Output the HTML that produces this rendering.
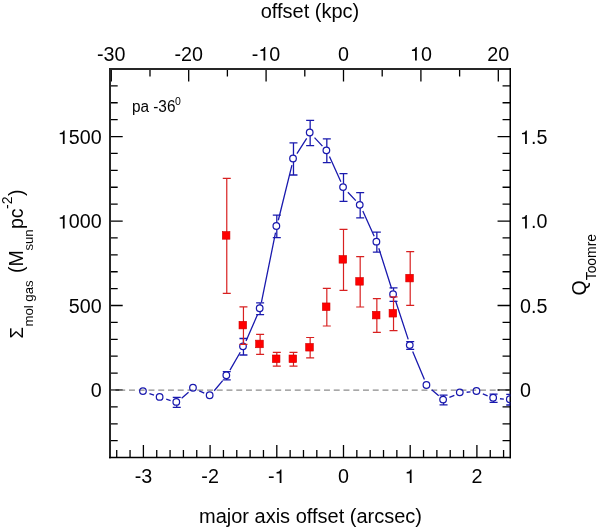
<!DOCTYPE html><html><head><meta charset="utf-8"><style>html,body{margin:0;padding:0;background:#fff}svg{display:block}</style></head><body>
<svg width="600" height="527" viewBox="0 0 600 527" font-family="Liberation Sans, sans-serif">
<rect width="600" height="527" fill="#fff"/>
<defs><path id="one" d="M713 0V-1409H600C575 -1260 470 -1150 205 -1135V-1000H528V0Z"/></defs>
<defs><clipPath id="c"><rect x="110.00" y="69.00" width="400.25" height="388.40"/></clipPath></defs>
<path d="M116.72 457.40V450.00 M130.06 457.40V450.00 M143.40 457.40V444.90 M156.74 457.40V450.00 M170.08 457.40V450.00 M183.42 457.40V450.00 M196.76 457.40V450.00 M210.10 457.40V444.90 M223.44 457.40V450.00 M236.78 457.40V450.00 M250.12 457.40V450.00 M263.46 457.40V450.00 M276.80 457.40V444.90 M290.14 457.40V450.00 M303.48 457.40V450.00 M316.82 457.40V450.00 M330.16 457.40V450.00 M343.50 457.40V444.90 M356.84 457.40V450.00 M370.18 457.40V450.00 M383.52 457.40V450.00 M396.86 457.40V450.00 M410.20 457.40V444.90 M423.54 457.40V450.00 M436.88 457.40V450.00 M450.22 457.40V450.00 M463.56 457.40V450.00 M476.90 457.40V444.90 M490.24 457.40V450.00 M503.58 457.40V450.00 M111.28 69.00V81.60 M149.99 69.00V76.60 M188.69 69.00V81.60 M227.39 69.00V76.60 M266.09 69.00V81.60 M304.80 69.00V76.60 M343.50 69.00V81.60 M382.20 69.00V76.60 M420.91 69.00V81.60 M459.61 69.00V76.60 M498.31 69.00V81.60 M110.00 440.69H117.70 M510.25 440.69H502.55 M110.00 423.79H117.70 M510.25 423.79H502.55 M110.00 406.90H117.70 M510.25 406.90H502.55 M110.00 390.00H122.70 M510.25 390.00H497.55 M110.00 373.10H117.70 M510.25 373.10H502.55 M110.00 356.21H117.70 M510.25 356.21H502.55 M110.00 339.31H117.70 M510.25 339.31H502.55 M110.00 322.42H117.70 M510.25 322.42H502.55 M110.00 305.52H122.70 M510.25 305.52H497.55 M110.00 288.62H117.70 M510.25 288.62H502.55 M110.00 271.73H117.70 M510.25 271.73H502.55 M110.00 254.83H117.70 M510.25 254.83H502.55 M110.00 237.94H117.70 M510.25 237.94H502.55 M110.00 221.04H122.70 M510.25 221.04H497.55 M110.00 204.14H117.70 M510.25 204.14H502.55 M110.00 187.25H117.70 M510.25 187.25H502.55 M110.00 170.35H117.70 M510.25 170.35H502.55 M110.00 153.46H117.70 M510.25 153.46H502.55 M110.00 136.56H122.70 M510.25 136.56H497.55 M110.00 119.66H117.70 M510.25 119.66H502.55 M110.00 102.77H117.70 M510.25 102.77H502.55 M110.00 85.87H117.70 M510.25 85.87H502.55" stroke="#000" stroke-width="1.3" fill="none"/>
<line x1="109.50" y1="390.00" x2="510.25" y2="390.00" stroke="#8c8c8c" stroke-width="1.25" stroke-dasharray="5.95 3.8"/>
<path d="M109.00 69.00H511.00" stroke="#262626" stroke-width="2"/>
<path d="M110.00 68.00V458.15" stroke="#262626" stroke-width="2"/>
<path d="M510.25 68.00V458.15" stroke="#000" stroke-width="1.5"/>
<path d="M109.00 457.40H511.00" stroke="#000" stroke-width="1.5"/>
<g clip-path="url(#c)">
<path d="M149.44 393.62L154.04 395.23 M166.21 399.19L170.62 400.51 M181.63 398.21L188.55 392.34 M199.26 390.83L204.26 393.07 M214.20 390.78L222.68 380.62 M229.97 370.15L240.26 352.30 M246.02 340.89L257.56 314.56 M261.40 302.43L275.53 232.72 M278.33 220.24L291.94 165.16 M296.93 153.56L306.69 138.34 M314.53 137.62L322.45 146.08 M329.47 156.58L340.86 181.72 M347.89 192.21L355.79 200.59 M362.81 211.08L374.21 236.27 M378.79 248.20L391.59 288.50 M395.52 300.68L408.21 339.42 M412.67 351.41L424.41 379.54 M431.70 389.66L438.73 395.79 M449.42 397.45L454.36 395.30 M466.61 392.25L470.52 391.95 M482.83 393.85L487.64 395.80 M499.95 398.75L503.87 399.10" stroke="#1a1aae" stroke-width="1.3" fill="none"/>
<path d="M176.75 397.30V398.60 M176.75 405.20V407.40 M172.75 397.30H180.75 M172.75 407.40H180.75 M226.77 371.60V371.95 M226.77 378.55V379.80 M222.77 371.60H230.77 M222.77 379.80H230.77 M243.45 338.50V343.00 M243.45 349.60V355.00 M239.45 338.50H247.45 M239.45 355.00H247.45 M260.12 302.80V304.95 M260.12 311.55V314.60 M256.12 302.80H264.12 M256.12 314.60H264.12 M276.80 215.20V222.70 M276.80 229.30V237.70 M272.80 215.20H280.80 M272.80 237.70H280.80 M293.48 142.90V155.20 M293.48 161.80V175.00 M289.48 142.90H297.48 M289.48 175.00H297.48 M310.15 120.30V129.20 M310.15 135.80V145.60 M306.15 120.30H314.15 M306.15 145.60H314.15 M326.82 138.80V147.00 M326.82 153.60V162.70 M322.82 138.80H330.82 M322.82 162.70H330.82 M343.50 173.70V183.80 M343.50 190.40V201.40 M339.50 173.70H347.50 M339.50 201.40H347.50 M360.18 192.60V201.50 M360.18 208.10V217.90 M356.18 192.60H364.18 M356.18 217.90H364.18 M376.85 232.10V238.35 M376.85 244.95V252.10 M372.85 232.10H380.85 M372.85 252.10H380.85 M393.52 287.90V290.85 M393.52 297.45V301.30 M389.52 287.90H397.52 M389.52 301.30H397.52 M406.20 341.60H414.20 M406.20 349.40H414.20 M443.55 395.20V396.25 M443.55 402.85V404.80 M439.55 395.20H447.55 M439.55 404.80H447.55 M493.58 394.10V394.45 M493.58 401.05V402.30 M489.58 394.10H497.58 M489.58 402.30H497.58 M510.25 394.30V395.90 M510.25 402.50V405.00 M506.25 394.30H514.25 M506.25 405.00H514.25" stroke="#1a1aae" stroke-width="1.3" fill="none"/>
<circle cx="142.95" cy="391.05" r="3.30" fill="none" stroke="#1a1aae" stroke-width="1.25"/>
<circle cx="159.62" cy="396.90" r="3.30" fill="none" stroke="#1a1aae" stroke-width="1.25"/>
<circle cx="176.30" cy="401.90" r="3.30" fill="none" stroke="#1a1aae" stroke-width="1.25"/>
<circle cx="192.97" cy="387.75" r="3.30" fill="none" stroke="#1a1aae" stroke-width="1.25"/>
<circle cx="209.65" cy="395.25" r="3.30" fill="none" stroke="#1a1aae" stroke-width="1.25"/>
<circle cx="226.32" cy="375.25" r="3.30" fill="none" stroke="#1a1aae" stroke-width="1.25"/>
<circle cx="243.00" cy="346.30" r="3.30" fill="none" stroke="#1a1aae" stroke-width="1.25"/>
<circle cx="259.68" cy="308.25" r="3.30" fill="none" stroke="#1a1aae" stroke-width="1.25"/>
<circle cx="276.35" cy="226.00" r="3.30" fill="none" stroke="#1a1aae" stroke-width="1.25"/>
<circle cx="293.03" cy="158.50" r="3.30" fill="none" stroke="#1a1aae" stroke-width="1.25"/>
<circle cx="309.70" cy="132.50" r="3.30" fill="none" stroke="#1a1aae" stroke-width="1.25"/>
<circle cx="326.38" cy="150.30" r="3.30" fill="none" stroke="#1a1aae" stroke-width="1.25"/>
<circle cx="343.05" cy="187.10" r="3.30" fill="none" stroke="#1a1aae" stroke-width="1.25"/>
<circle cx="359.73" cy="204.80" r="3.30" fill="none" stroke="#1a1aae" stroke-width="1.25"/>
<circle cx="376.40" cy="241.65" r="3.30" fill="none" stroke="#1a1aae" stroke-width="1.25"/>
<circle cx="393.07" cy="294.15" r="3.30" fill="none" stroke="#1a1aae" stroke-width="1.25"/>
<circle cx="409.75" cy="345.05" r="3.30" fill="none" stroke="#1a1aae" stroke-width="1.25"/>
<circle cx="426.43" cy="385.00" r="3.30" fill="none" stroke="#1a1aae" stroke-width="1.25"/>
<circle cx="443.10" cy="399.55" r="3.30" fill="none" stroke="#1a1aae" stroke-width="1.25"/>
<circle cx="459.78" cy="392.30" r="3.30" fill="none" stroke="#1a1aae" stroke-width="1.25"/>
<circle cx="476.45" cy="391.00" r="3.30" fill="none" stroke="#1a1aae" stroke-width="1.25"/>
<circle cx="493.13" cy="397.75" r="3.30" fill="none" stroke="#1a1aae" stroke-width="1.25"/>
<circle cx="509.80" cy="399.20" r="3.30" fill="none" stroke="#1a1aae" stroke-width="1.25"/>
<path d="M226.77 178.40V293.30 M222.77 178.40H230.77 M222.77 293.30H230.77 M243.45 306.80V344.30 M239.45 306.80H247.45 M239.45 344.30H247.45 M260.12 334.40V354.40 M256.12 334.40H264.12 M256.12 354.40H264.12 M276.80 352.40V366.10 M272.80 352.40H280.80 M272.80 366.10H280.80 M293.48 352.40V366.10 M289.48 352.40H297.48 M289.48 366.10H297.48 M310.15 337.50V357.90 M306.15 337.50H314.15 M306.15 357.90H314.15 M326.82 288.40V326.00 M322.82 288.40H330.82 M322.82 326.00H330.82 M343.50 229.30V290.30 M339.50 229.30H347.50 M339.50 290.30H347.50 M360.18 256.60V307.00 M356.18 256.60H364.18 M356.18 307.00H364.18 M376.85 298.70V332.40 M372.85 298.70H380.85 M372.85 332.40H380.85 M393.52 296.80V330.60 M389.52 296.80H397.52 M389.52 330.60H397.52 M410.20 251.65V305.45 M406.20 251.65H414.20 M406.20 305.45H414.20" stroke="#d82020" stroke-width="1.2" fill="none"/>
<rect x="222.32" y="231.60" width="7.60" height="7.60" fill="#ff0000" stroke="#d00000" stroke-width="0.6"/>
<rect x="239.00" y="321.30" width="7.60" height="7.60" fill="#ff0000" stroke="#d00000" stroke-width="0.6"/>
<rect x="255.68" y="340.15" width="7.60" height="7.60" fill="#ff0000" stroke="#d00000" stroke-width="0.6"/>
<rect x="272.35" y="355.00" width="7.60" height="7.60" fill="#ff0000" stroke="#d00000" stroke-width="0.6"/>
<rect x="289.03" y="355.00" width="7.60" height="7.60" fill="#ff0000" stroke="#d00000" stroke-width="0.6"/>
<rect x="305.70" y="343.45" width="7.60" height="7.60" fill="#ff0000" stroke="#d00000" stroke-width="0.6"/>
<rect x="322.38" y="302.95" width="7.60" height="7.60" fill="#ff0000" stroke="#d00000" stroke-width="0.6"/>
<rect x="339.05" y="255.55" width="7.60" height="7.60" fill="#ff0000" stroke="#d00000" stroke-width="0.6"/>
<rect x="355.73" y="277.55" width="7.60" height="7.60" fill="#ff0000" stroke="#d00000" stroke-width="0.6"/>
<rect x="372.40" y="311.30" width="7.60" height="7.60" fill="#ff0000" stroke="#d00000" stroke-width="0.6"/>
<rect x="389.07" y="309.45" width="7.60" height="7.60" fill="#ff0000" stroke="#d00000" stroke-width="0.6"/>
<rect x="405.75" y="274.30" width="7.60" height="7.60" fill="#ff0000" stroke="#d00000" stroke-width="0.6"/>
</g>
<g opacity="0.995">
<text x="143.40" y="483.00" font-size="19.70" text-anchor="middle">-3</text>
<text x="210.10" y="483.00" font-size="19.70" text-anchor="middle">-2</text>
<text x="276.80" y="483.00" font-size="19.70" text-anchor="middle">-&#8199;</text><use href="#one" transform="translate(274.60 483.00) scale(0.00962)"/>
<text x="343.50" y="483.00" font-size="19.70" text-anchor="middle">0</text>
<text x="410.20" y="483.00" font-size="19.70" text-anchor="middle">&#8199;</text><use href="#one" transform="translate(404.72 483.00) scale(0.00962)"/>
<text x="476.90" y="483.00" font-size="19.70" text-anchor="middle">2</text>
<text x="111.28" y="60.60" font-size="19.70" text-anchor="middle">-30</text>
<text x="188.69" y="60.60" font-size="19.70" text-anchor="middle">-20</text>
<text x="266.09" y="60.60" font-size="19.70" text-anchor="middle">-&#8199;0</text><use href="#one" transform="translate(258.42 60.60) scale(0.00962)"/>
<text x="343.50" y="60.60" font-size="19.70" text-anchor="middle">0</text>
<text x="420.91" y="60.60" font-size="19.70" text-anchor="middle">&#8199;0</text><use href="#one" transform="translate(409.95 60.60) scale(0.00962)"/>
<text x="498.31" y="60.60" font-size="19.70" text-anchor="middle">20</text>
<text x="101.60" y="397.40" font-size="19.70" text-anchor="end">0</text>
<text x="101.60" y="312.92" font-size="19.70" text-anchor="end">500</text>
<text x="101.60" y="228.44" font-size="19.70" text-anchor="end">&#8199;000</text><use href="#one" transform="translate(57.78 228.44) scale(0.00962)"/>
<text x="101.60" y="143.96" font-size="19.70" text-anchor="end">&#8199;500</text><use href="#one" transform="translate(57.78 143.96) scale(0.00962)"/>
<text x="520.00" y="397.40" font-size="19.70" text-anchor="start">0</text>
<text x="520.00" y="312.92" font-size="19.70" text-anchor="start">0.5</text>
<text x="520.00" y="228.44" font-size="19.70" text-anchor="start">&#8199;.0</text><use href="#one" transform="translate(520.00 228.44) scale(0.00962)"/>
<text x="520.00" y="143.96" font-size="19.70" text-anchor="start">&#8199;.5</text><use href="#one" transform="translate(520.00 143.96) scale(0.00962)"/>
<text x="310.00" y="18.20" font-size="20.00" text-anchor="middle">offset (kpc)</text>
<text x="310.50" y="522.80" font-size="20.00" text-anchor="middle">major axis offset (arcsec)</text>
<g transform="translate(131.9 111.6) scale(0.96 1)"><text x="0.00" y="0.00" font-size="16.00" text-anchor="start">pa -36</text></g>
<text x="175.00" y="105.40" font-size="10.50" text-anchor="start">0</text>
<g transform="rotate(-90)">
<text x="-295.50" y="586.00" font-size="19.50" text-anchor="start">Q</text>
<text x="-280.30" y="595.60" font-size="13.90" text-anchor="start">Toomre</text>
</g>
<g transform="rotate(-90)">
<text x="-338.50" y="23.20" font-size="18.50" text-anchor="start">&#931;</text>
<text x="-326.60" y="32.70" font-size="13.20" text-anchor="start">mol gas</text>
<text x="-273.00" y="23.20" font-size="19.50" text-anchor="start">(M</text>
<text x="-250.60" y="32.70" font-size="13.20" text-anchor="start">sun</text>
<text x="-229.00" y="23.20" font-size="19.50" text-anchor="start">pc</text>
<text x="-209.00" y="11.70" font-size="14.00" text-anchor="start">-2</text>
<text x="-196.00" y="23.20" font-size="19.50" text-anchor="start">)</text>
</g>
</g>
</svg></body></html>
